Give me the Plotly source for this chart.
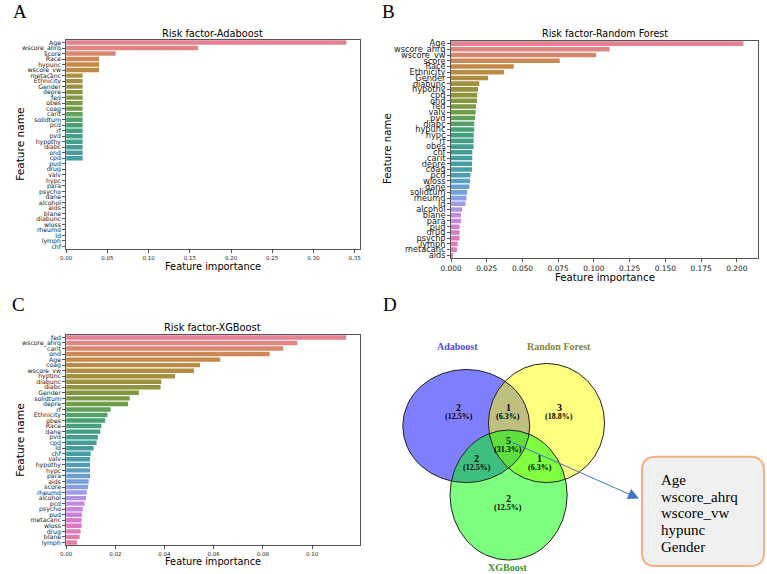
import colorsys
import re

import plotly.graph_objects as go
from plotly.colors import sample_colorscale

W, H = 767, 574

# ----------------------------------------------------------------------
# Data
# ----------------------------------------------------------------------
ada_features = [
    "Age", "wscore_ahrq", "score", "Race", "hypunc", "wscore_vw", "metacanc",
    "Ethnicity", "Gender", "depre", "fed", "obes", "coag", "carit", "solidtum",
    "pcd", "rf", "pvd", "hypothy", "diabc", "ond", "cpd", "pud", "drug", "valv",
    "hypc", "para", "psycho", "dane", "alcohol", "aids", "blane", "diabunc",
    "wloss", "rheumd", "ld", "lymph", "chf",
]
ada_values = [
    0.34, 0.16, 0.06, 0.04, 0.04, 0.04, 0.02, 0.02, 0.02, 0.02, 0.02, 0.02,
    0.02, 0.02, 0.02, 0.02, 0.02, 0.02, 0.02, 0.02, 0.02, 0.02, 0.0, 0.0, 0.0,
    0.0, 0.0, 0.0, 0.0, 0.0, 0.0, 0.0, 0.0, 0.0, 0.0, 0.0, 0.0, 0.0,
]

rf_features = [
    "Age", "wscore_ahrq", "wscore_vw", "score", "Race", "Ethnicity", "Gender",
    "diabunc", "hypothy", "cpd", "ond", "fed", "valv", "pvd", "diabc", "hypunc",
    "hypc", "rf", "obes", "chf", "carit", "depre", "coag", "pcd", "wloss",
    "dane", "solidtum", "rheumd", "ld", "alcohol", "blane", "para", "pud",
    "drug", "psycho", "lymph", "metacanc", "aids",
]
rf_values = [
    0.2046, 0.111, 0.1016, 0.0761, 0.0439, 0.037, 0.026, 0.0198, 0.0189,
    0.0184, 0.0182, 0.0175, 0.0172, 0.0168, 0.0163, 0.0163, 0.0159, 0.0158,
    0.0158, 0.0149, 0.0149, 0.0147, 0.0147, 0.0136, 0.0133, 0.0129, 0.0113,
    0.0108, 0.0101, 0.0078, 0.0069, 0.0069, 0.006, 0.006, 0.006, 0.0046,
    0.0041, 0.0011,
]

xgb_features = [
    "fed", "wscore_ahrq", "carit", "ond", "Age", "coag", "wscore_vw", "hypunc",
    "diabunc", "diabc", "Gender", "solidtum", "depre", "rf", "Ethnicity", "obes",
    "Race", "dane", "pvd", "cpd", "ld", "chf", "valv", "hypothy", "hypc", "para",
    "aids", "score", "rheumd", "alcohol", "pcd", "psycho", "pud", "metacanc",
    "wloss", "drug", "blane", "lymph",
]
xgb_values = [
    0.1139, 0.094, 0.0883, 0.0828, 0.0627, 0.0545, 0.052, 0.0443, 0.0387,
    0.0384, 0.0296, 0.0259, 0.0252, 0.0181, 0.0168, 0.0159, 0.0143, 0.0139,
    0.0129, 0.0124, 0.0112, 0.0100, 0.0097, 0.0097, 0.0097, 0.0097, 0.0092,
    0.0089, 0.0084, 0.0081, 0.0075, 0.0068, 0.0064, 0.0063, 0.0063, 0.0059,
    0.0055, 0.0044,
]

# Venn regions: A only, A&RF, RF only, all three, A&XGB, RF&XGB, XGB only
venn_counts = [2, 1, 3, 5, 2, 1, 2]
venn_pcts = ["12.5%", "6.3%", "18.8%", "31.3%", "12.5%", "6.3%", "12.5%"]
venn_sets = ["Adaboost", "Randon Forest", "XGBoost"]
shared_features = ["Age", "wscore_ahrq", "wscore_vw", "hypunc", "Gender"]

# ----------------------------------------------------------------------
# Helpers
# ----------------------------------------------------------------------
HUSL = ["#f77189", "#dc8932", "#ae9d31", "#77ab31", "#33b07a", "#36ada4",
        "#38a9c5", "#6e9bf4", "#cc7af4", "#f565cc", "#f77189"]


def _hex_rgb(h):
    h = h.lstrip("#")
    return "rgb(%d,%d,%d)" % tuple(int(h[i:i + 2], 16) for i in (0, 2, 4))


def palette(n, sat=0.75):
    scale = [[i / 10, _hex_rgb(c)] for i, c in enumerate(HUSL)]
    out = []
    for c in sample_colorscale(scale, [i / n for i in range(n)]):
        r, g, b = [float(v) / 255 for v in re.findall(r"[\d.]+", c)]
        hh, ll, ss = colorsys.rgb_to_hls(r, g, b)
        r, g, b = colorsys.hls_to_rgb(hh, ll, ss * sat)
        out.append("rgb(%d,%d,%d)" % (r * 255, g * 255, b * 255))
    return out


def xdom(a, b):
    return [a / W, b / W]


def ydom(top, bottom):
    return [1 - bottom / H, 1 - top / H]


FONT = "DejaVu Sans"
SERIF = "Liberation Serif"
fig = go.Figure()

panels = [
    # features, values, axis suffix, x px, y px, xmax, dtick, fmt, y/x tick font
    (ada_features, ada_values, "", (56, 355), (38, 249), 0.357, 0.05, ".2f", 6.2, 5.5),
    (rf_features, rf_values, "2", (447, 759), (39, 258), 0.2149, 0.025, ".3f", 8.2, 7.4),
    (xgb_features, xgb_values, "3", (56, 355), (335, 547), 0.1197, 0.02, ".2f", 6.2, 5.5),
]

for feats, vals, sfx, xp, yp, xmax, dt, fmt, yfs, xfs in panels:
    fig.add_trace(go.Bar(
        x=vals, y=feats, orientation="h",
        marker=dict(color=palette(len(feats)), line=dict(width=0)),
        width=0.8, xaxis="x" + sfx, yaxis="y" + sfx, showlegend=False,
    ))
    axline = dict(showline=True, mirror=True, linecolor="#555", linewidth=0.8,
                  ticks="outside", ticklen=3, tickwidth=0.8, tickcolor="#555",
                  showgrid=False, zeroline=False)
    fig.layout["xaxis" + sfx] = dict(
        domain=xdom(*xp), anchor="y" + sfx, range=[0, xmax],
        tick0=0, dtick=dt, tickformat=fmt,
        tickfont=dict(size=xfs, color="#222", family=FONT), **axline)
    fig.layout["yaxis" + sfx] = dict(
        domain=ydom(*yp), anchor="x" + sfx, type="category",
        range=[len(feats) - 0.5, -0.5],
        tickmode="array", tickvals=feats, ticktext=feats,
        tickfont=dict(size=yfs, color="#222", family=FONT), **axline)

# overlay axis in pixel coordinates for annotations and the Venn diagram
fig.layout["xaxis4"] = dict(domain=[0, 1], range=[0, W], visible=False,
                            anchor="y4", fixedrange=True)
fig.layout["yaxis4"] = dict(domain=[0, 1], range=[H, 0], visible=False,
                            anchor="x4", fixedrange=True)
fig.add_trace(go.Scatter(x=[], y=[], xaxis="x4", yaxis="y4", showlegend=False))


def note(x, y, text, size, color="black", family=FONT, angle=0, xanchor="center"):
    fig.add_annotation(x=x, y=y, xref="x4", yref="y4", text=text, showarrow=False,
                       textangle=angle, xanchor=xanchor, yanchor="middle",
                       font=dict(size=size, color=color, family=family))


# panel letters
for letter, x, y in [("A", 9, 10), ("B", 383, 10), ("C", 8, 305), ("D", 385, 305)]:
    note(x, y, letter, 19, family=SERIF)

# titles and axis labels
note(205, 32, "Risk factor-Adaboost", 9.8)
note(603, 32, "Risk factor-Random Forest", 9.6)
note(205, 328, "Risk factor-XGBoost", 9.8)
note(205, 266, "Feature importance", 9.8)
note(603, 277, "Feature importance", 10.2)
note(205, 563, "Feature importance", 9.8)
note(9, 143, "Feature name", 10.6, angle=-90)
note(383, 148, "Feature name", 10.2, angle=-90)
note(9, 441, "Feature name", 10.6, angle=-90)

# ----------------------------------------------------------------------
# Venn diagram
# ----------------------------------------------------------------------
circles = [
    ((398, 370, 527, 484), "rgba(0,0,255,0.5)"),
    ((485, 364, 603, 484), "rgba(255,255,0,0.5)"),
    ((446, 431, 565, 562), "rgba(0,255,0,0.5)"),
]
for (x0, y0, x1, y1), col in circles:
    fig.add_shape(type="circle", xref="x4", yref="y4", x0=x0, y0=y0, x1=x1, y1=y1,
                  fillcolor=col, line=dict(width=0))
for (x0, y0, x1, y1), col in circles:
    fig.add_shape(type="circle", xref="x4", yref="y4", x0=x0, y0=y0, x1=x1, y1=y1,
                  line=dict(color="#222", width=1))

region_pos = [(455, 408), (505, 408), (557, 408), (505, 442),
              (473, 460), (537, 460), (505, 500)]
for (x, y), n, p in zip(region_pos, venn_counts, venn_pcts):
    note(x, y, "<b>%d</b>" % n, 10, family=SERIF)
    note(x, y + 9, "<b>(%s)</b>" % p, 8, family=SERIF)

for (x, y), name, col in zip([(454, 347), (557, 347), (505, 569)], venn_sets,
                             ["#4b4bf0", "#85853a", "#2f9a2f"]):
    note(x, y, "<b>%s</b>" % name, 10, color=col, family=SERIF)

# callout box
bx0, by0, bx1, by1, r = 641, 458, 765, 568, 14
path = (f"M {bx0 + r} {by0} L {bx1 - r} {by0} Q {bx1} {by0} {bx1} {by0 + r} "
        f"L {bx1} {by1 - r} Q {bx1} {by1} {bx1 - r} {by1} "
        f"L {bx0 + r} {by1} Q {bx0} {by1} {bx0} {by1 - r} "
        f"L {bx0} {by0 + r} Q {bx0} {by0} {bx0 + r} {by0} Z")
fig.add_shape(type="path", path=path, xref="x4", yref="y4",
              fillcolor="#f0f0f0", line=dict(color="#f4b183", width=2))
for i, feat in enumerate(shared_features):
    note(658, 481 + i * 17, feat, 15, family=SERIF, xanchor="left")

fig.add_annotation(x=638, y=500, ax=508, ay=443, xref="x4", yref="y4",
                   axref="x4", ayref="y4", text="", showarrow=True,
                   arrowhead=2, arrowsize=2.2, arrowwidth=1, arrowcolor="#4472c4")

fig.update_layout(
    width=W, height=H, margin=dict(l=0, r=0, t=0, b=0),
    paper_bgcolor="white", plot_bgcolor="rgba(0,0,0,0)",
    font=dict(family=FONT, color="black"), bargap=0.2, showlegend=False,
)

fig.write_html("out.html", config={"displayModeBar": False},
               post_script="document.body.style.margin='0';"
                           "document.body.style.overflow='hidden';")
